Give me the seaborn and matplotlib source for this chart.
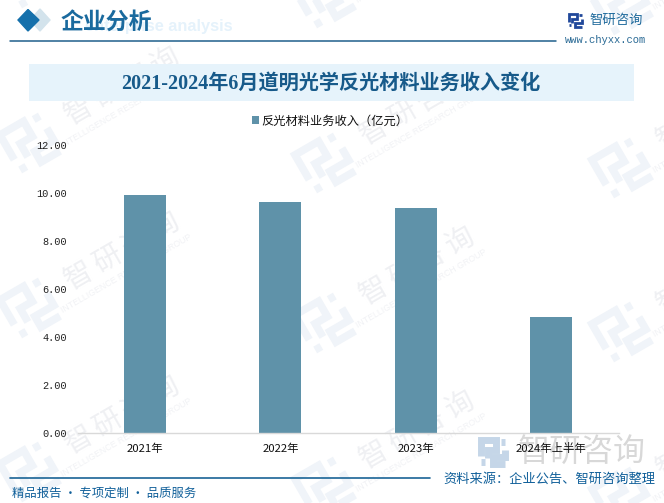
import numpy as np
import pandas as pd
import seaborn as sns
import matplotlib
matplotlib.use("Agg")
import matplotlib.pyplot as plt
from matplotlib.patches import Rectangle, Polygon
from matplotlib.lines import Line2D

categories = ["2021年", "2022年", "2023年", "2024年上半年"]
revenue = [9.92, 9.62, 9.38, 4.83]
series_name = "反光材料业务收入（亿元）"
y_ticks = [0, 2, 4, 6, 8, 10, 12]
title = "2021-2024年6月道明光学反光材料业务收入变化"

sns.set_theme(style="white")
CJK = ["Noto Sans CJK SC", "DejaVu Sans"]
SERIF = ["Liberation Serif", "Noto Sans CJK SC"]
plt.rcParams["font.family"] = CJK

W, H = 664, 503
fig = plt.figure(figsize=(W / 100, H / 100), dpi=100, facecolor="white")

# Background layer in pixel coordinates
bg = fig.add_axes([0, 0, 1, 1], zorder=0)
bg.set_xlim(0, W)
bg.set_ylim(H, 0)
bg.axis("off")


def logo(cx, cy, size, angle, color, lw, z=1, alpha=1.0):
    pieces = [
        [(-.5, .15), (-.5, -.5), (.12, -.5), (.12, -.1), (-.2, -.1), (-.2, .25)],
        [(.5, -.1), (.5, .22), (.0, .22), (.0, .5), (.5, .5)],
        [(-.5, .42), (-.34, .42)],
        [(.34, -.42), (.5, -.42)],
    ]
    a = np.deg2rad(angle)
    c, s = np.cos(a), np.sin(a)
    for p in pieces:
        p = np.array(p) * size
        xs = cx + p[:, 0] * c - p[:, 1] * s
        ys = cy + p[:, 0] * s + p[:, 1] * c
        bg.add_line(Line2D(xs, ys, color=color, lw=lw, zorder=z, alpha=alpha,
                           solid_capstyle="butt", solid_joinstyle="miter"))


def watermark(x, y):
    logo(x, y, 44, -30, "#f0f4f9", 5.5)
    th = np.deg2rad(30)
    for i, ch in enumerate("智研咨询"):
        d = (i - 1.5) * 33
        bg.text(x + 92 + d * np.cos(th), y - 57 - d * np.sin(th), ch, fontsize=20.5,
                color="#eff0f3", rotation=30, ha="center", va="center",
                rotation_mode="anchor", zorder=1)
    bg.text(x + 96, y - 34, "INTELLIGENCE RESEARCH GROUP", fontsize=6.3, color="#f1f2f5",
            rotation=30, ha="center", va="center", rotation_mode="anchor",
            family="Liberation Sans", zorder=1)


for px, py in [(30, -22), (30, 143), (30, 308), (30, 472),
               (325, -2), (325, 163), (325, 323), (325, 487),
               (622, 5), (622, 168), (622, 332), (622, 497)]:
    watermark(px, py)

# Header
bg.add_patch(Polygon([(40, 9), (50, 20), (40, 31), (30, 20)], color="#d3e3ec", zorder=3))
bg.add_patch(Polygon([(28, 9.5), (39, 20), (28, 31), (18, 20)], color="#1570ab", zorder=3))
bg.text(85, 26, "enterprise analysis", fontsize=11.8, fontweight="bold", color="#e5f2fb",
        family="Liberation Sans", va="center", zorder=3)
bg.text(61, 22, "企业分析", fontsize=16.5, fontweight="bold", color="#1a6a9e",
        va="center", zorder=4)
bg.add_line(Line2D([10, 556], [41, 41], color="#1f5f8b", lw=1.1, zorder=3))

# Brand top right
logo(575, 20, 13, 0, "#20489a", 2.0, z=4)
bg.text(590, 20, "智研咨询", fontsize=9.6, color="#1f6a9c", va="center", zorder=4)
bg.text(565, 40, "www.chyxx.com", fontsize=7.6, color="#2a6a95", va="center",
        family="Liberation Mono", zorder=4)

# Title band
bg.add_patch(Rectangle((29, 64), 605, 37, color="#e6f3fb", zorder=3, lw=0))
bg.text(331, 84, title, fontsize=14.5, fontweight="bold", color="#175a8a", family=SERIF,
        ha="center", va="center", zorder=4)

# Footer
logo(493, 452, 24, 0, "#c5d6e8", 5, z=2)
bg.text(582, 452, "智研咨询", fontsize=23, color="#d8d8d8", ha="center", va="center", zorder=2)
bg.add_line(Line2D([10, 430], [478, 478], color="#1a6496", lw=1.2, zorder=3))
bg.text(12, 493, "精品报告 · 专项定制 · 品质服务", fontsize=8.9, color="#11609a", va="center", zorder=4)
bg.text(443, 479, "资料来源：企业公告、智研咨询整理", fontsize=9.5, color="#11609a", va="center", zorder=4)

# Chart
df = pd.DataFrame({"year": categories, "revenue": revenue, "series": series_name})
ax = fig.add_axes([77.5 / W, (H - 433) / H, 541 / W, 288 / H], zorder=2)
ax.patch.set_alpha(0)
sns.barplot(data=df, x="year", y="revenue", hue="series", order=categories,
            palette=["#5f92a9"], width=0.31, saturation=1, ax=ax, legend=True)
ax.set_xlim(-0.5, 3.5)
ax.set_ylim(0, 12)
ax.set_xlabel("")
ax.set_ylabel("")
ax.set_yticks(y_ticks)
ax.set_yticklabels([f"{v:.2f}" for v in y_ticks], family="Liberation Mono", fontsize=7.4, color="#222222")
ax.tick_params(axis="y", length=0, pad=7.5)
ax.tick_params(axis="x", length=0, pad=7.5, labelsize=8.2, labelcolor="#111111")
ax.grid(False)
for side in ["top", "left", "right"]:
    ax.spines[side].set_visible(False)
ax.spines["bottom"].set_color("#d9d9d9")
ax.spines["bottom"].set_linewidth(1)
for b in ax.patches:
    b.set_linewidth(0)

leg = ax.legend(loc="center", bbox_to_anchor=((330.5 - 77.5) / 541, (433 - 121) / 288), frameon=False,
                fontsize=8.8, handlelength=0.55, handleheight=0.55, handletextpad=0.2,
                borderpad=0, labelcolor="#111111")

fig.savefig("out.png", dpi=100)
